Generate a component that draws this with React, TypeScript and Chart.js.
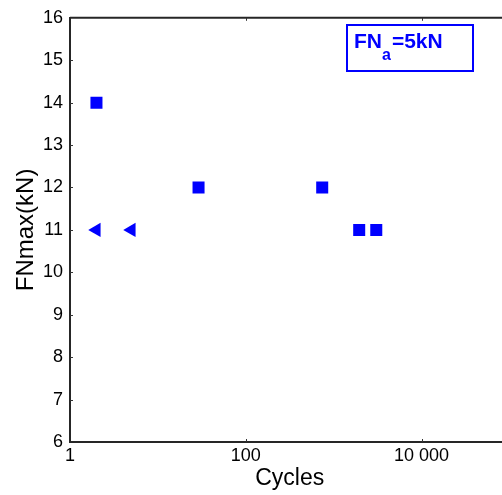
import React, { useEffect, useRef } from "react";
import { Chart, registerables } from "chart.js";

Chart.register(...registerables);

const squareCycles = [2, 29, 740, 1950, 3050];
const squareFN = [14, 12, 12, 11, 11];
const triangleCycles = [2, 5];
const triangleFN = [11, 11];
const xTickValues = [1, 100, 10000];
const annotationMain = "FN";
const annotationSub = "a";
const annotationRest = "=5kN";

const FONT = "'Liberation Sans', Arial, Helvetica, sans-serif";
const BLUE = "#0000ff";
const AXIS = "#262626";

const framePlugin = {
  id: "framePlugin",
  afterDraw(chart: any) {
    const { ctx, chartArea, scales } = chart;
    const { left, right, top, bottom } = chartArea;
    ctx.save();
    // top border
    ctx.strokeStyle = AXIS;
    ctx.lineWidth = 2;
    ctx.beginPath();
    ctx.moveTo(left, top);
    ctx.lineTo(right, top);
    ctx.stroke();
    // inward ticks
    ctx.lineWidth = 1;
    ctx.strokeStyle = "#333";
    const tl = 3;
    for (const t of scales.x.ticks) {
      const px = Math.round(scales.x.getPixelForValue(t.value)) + 0.5;
      if (px <= left + 1) continue;
      ctx.beginPath();
      ctx.moveTo(px, bottom);
      ctx.lineTo(px, bottom - tl);
      ctx.moveTo(px, top);
      ctx.lineTo(px, top + tl);
      ctx.stroke();
    }
    for (const t of scales.y.ticks) {
      const py = Math.round(scales.y.getPixelForValue(t.value)) + 0.5;
      if (py >= bottom - 1 || py <= top + 1) continue;
      ctx.beginPath();
      ctx.moveTo(left, py);
      ctx.lineTo(left + tl, py);
      ctx.stroke();
    }
    // annotation box
    ctx.strokeStyle = BLUE;
    ctx.lineWidth = 2;
    ctx.strokeRect(347, 25, 126, 46);
    ctx.fillStyle = BLUE;
    ctx.textBaseline = "alphabetic";
    ctx.textAlign = "left";
    ctx.font = `bold 21px ${FONT}`;
    let x = 354;
    ctx.fillText(annotationMain, x, 48);
    x += ctx.measureText(annotationMain).width;
    ctx.font = `bold 16px ${FONT}`;
    ctx.fillText(annotationSub, x, 60);
    x += ctx.measureText(annotationSub).width + 1;
    ctx.font = `bold 21px ${FONT}`;
    ctx.fillText(annotationRest, x, 48);
    ctx.restore();
  },
};

export default function App() {
  const ref = useRef<HTMLCanvasElement>(null);
  useEffect(() => {
    const canvas = ref.current!;
    const chart = new Chart(canvas, {
      type: "scatter",
      data: {
        datasets: [
          {
            label: "squares",
            data: squareCycles.map((c, i) => ({ x: c, y: squareFN[i] })),
            pointStyle: "rect",
            pointRadius: 8.5,
            pointHoverRadius: 8.5,
            borderWidth: 0,
            backgroundColor: BLUE,
            borderColor: BLUE,
          },
          {
            label: "triangles",
            data: triangleCycles.map((c, i) => ({ x: c, y: triangleFN[i] })),
            pointStyle: "triangle",
            rotation: -90,
            pointRadius: 8.2,
            pointHoverRadius: 8.2,
            borderWidth: 0,
            backgroundColor: BLUE,
            borderColor: BLUE,
          },
        ],
      },
      options: {
        animation: false,
        responsive: false,
        devicePixelRatio: 1,
        events: [],
        layout: { padding: { top: 16, left: 0, right: 0, bottom: 0 } },
        plugins: { legend: { display: false }, tooltip: { enabled: false } },
        scales: {
          x: {
            type: "logarithmic",
            min: 1,
            max: 100000,
            afterBuildTicks: (scale: any) => {
              scale.ticks = xTickValues.map((v) => ({ value: v }));
            },
            afterFit: (scale: any) => {
              scale.height = 53;
              scale.paddingRight = 0;
              scale.paddingLeft = 0;
            },
            grid: { display: false, drawTicks: false },
            border: { display: true, color: AXIS, width: 2 },
            ticks: {
              autoSkip: false,
              maxRotation: 0,
              padding: 3,
              color: "#000",
              font: { family: FONT, size: 18 },
              callback: (v: any) =>
                Number(v).toLocaleString("en-US").replace(/,/g, " "),
            },
            title: {
              display: true,
              text: "Cycles",
              color: "#000",
              font: { family: FONT, size: 23 },
              padding: { top: 0, bottom: 3 },
            },
          },
          y: {
            min: 6,
            max: 16,
            afterFit: (scale: any) => {
              scale.width = 70;
            },
            grid: { display: false, drawTicks: false },
            border: { display: true, color: AXIS, width: 2 },
            ticks: {
              stepSize: 1,
              padding: 7,
              color: "#000",
              font: { family: FONT, size: 18 },
            },
            title: {
              display: true,
              text: "FNmax(kN)",
              color: "#000",
              font: { family: FONT, size: 24 },
              padding: { top: 12, bottom: 0 },
            },
          },
        },
      },
      plugins: [framePlugin],
    });
    return () => chart.destroy();
  }, []);
  return (
    <div
      style={{
        position: "absolute",
        left: 0,
        top: 0,
        width: 502,
        height: 495,
        overflow: "hidden",
        background: "#fff",
      }}
    >
      <canvas ref={ref} width={518} height={495} style={{ display: "block" }} />
    </div>
  );
}
